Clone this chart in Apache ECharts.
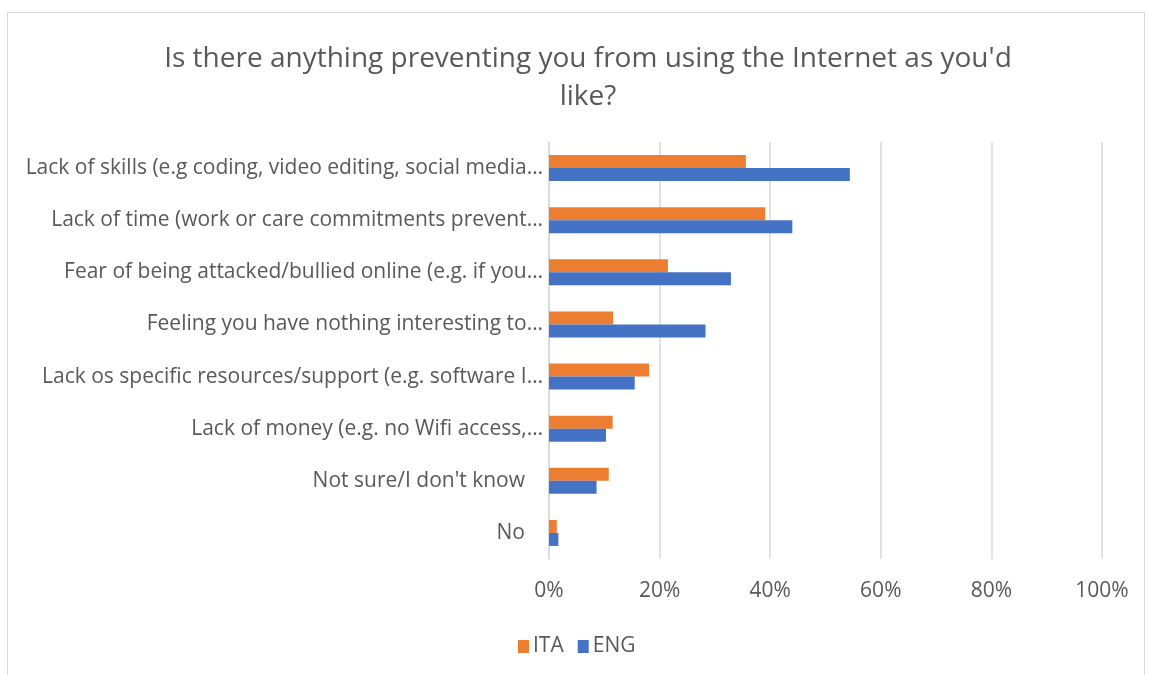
<!DOCTYPE html>
<html>
<head>
<meta charset="utf-8">
<script src="https://cdn.jsdelivr.net/npm/echarts@6/dist/echarts.min.js"></script>
<style>
  html, body { margin: 0; padding: 0; background: #ffffff; }
  #frame { position: absolute; left: 7px; top: 12px; width: 1138px; height: 680px; border: 1px solid #d9d9d9; box-sizing: border-box; }
  #chart { position: absolute; left: 0; top: 0; width: 1152px; height: 675px; }
</style>
</head>
<body>
<div id="frame"></div>
<div id="chart"></div>
<script>
// Survey answers, listed top to bottom
const categories = [
  "Lack of skills (e.g coding, video editing, social media…",
  "Lack of time (work or care commitments prevent…",
  "Fear of being attacked/bullied online (e.g. if you…",
  "Feeling you have nothing interesting to…",
  "Lack os specific resources/support (e.g. software I…",
  "Lack of money (e.g. no Wifi access,…",
  "Not sure/I don't know",
  "No"
];
// Share of respondents (fraction of 1)
const ita = [0.356, 0.391, 0.215, 0.116, 0.181, 0.115, 0.108, 0.014];
const eng = [0.544, 0.440, 0.329, 0.283, 0.155, 0.103, 0.086, 0.017];
const seriesNames = ["ITA", "ENG"];

const font = "Open Sans";
const textColor = "#595959";

const chart = echarts.init(document.getElementById("chart"), null, { renderer: "canvas" });
chart.setOption({
  animation: false,
  backgroundColor: "transparent",
  textStyle: { fontFamily: font },
  title: {
    text: "Is there anything preventing you from using the Internet as you'd\nlike?",
    left: 583,
    textAlign: "center",
    top: 35,
    textStyle: { fontFamily: font, fontSize: 28, fontWeight: "normal", color: textColor, lineHeight: 38 }
  },
  legend: {
    data: seriesNames,
    top: 631,
    left: 513,
    itemWidth: 11,
    itemHeight: 13,
    itemGap: 14,
    icon: "rect",
    textStyle: { fontFamily: font, fontSize: 21, color: textColor, padding: [0, 0, 0, -1] }
  },
  grid: { left: 549, right: 50, top: 142, bottom: 116, containLabel: false },
  xAxis: {
    type: "value",
    min: 0,
    max: 1,
    interval: 0.2,
    axisLine: { show: false },
    axisTick: { show: false },
    splitLine: { lineStyle: { color: "#d9d9d9", width: 1.5 } },
    axisLabel: {
      margin: 22,
      fontFamily: font,
      fontSize: 21,
      color: textColor,
      formatter: v => Math.round(v * 100) + "%"
    }
  },
  yAxis: {
    type: "category",
    data: categories,
    inverse: true,
    axisLine: { show: true, lineStyle: { color: "#d9d9d9", width: 1.5 } },
    axisTick: { show: false },
    axisLabel: {
      margin: 6,
      fontFamily: font,
      fontSize: 21,
      color: textColor,
      // full (untruncated) labels sit a little further from the axis
      formatter: v => v.endsWith("…") ? v : "{full|" + v + "}",
      rich: { full: { fontFamily: font, fontSize: 21, color: textColor, padding: [0, 18, 0, 0] } }
    }
  },
  series: [
    { name: seriesNames[0], type: "bar", data: ita, barWidth: 13, barGap: "0%", itemStyle: { color: "#ED7D31" } },
    { name: seriesNames[1], type: "bar", data: eng, barWidth: 13, barGap: "0%", itemStyle: { color: "#4472C4" } }
  ]
});
</script>
</body>
</html>
